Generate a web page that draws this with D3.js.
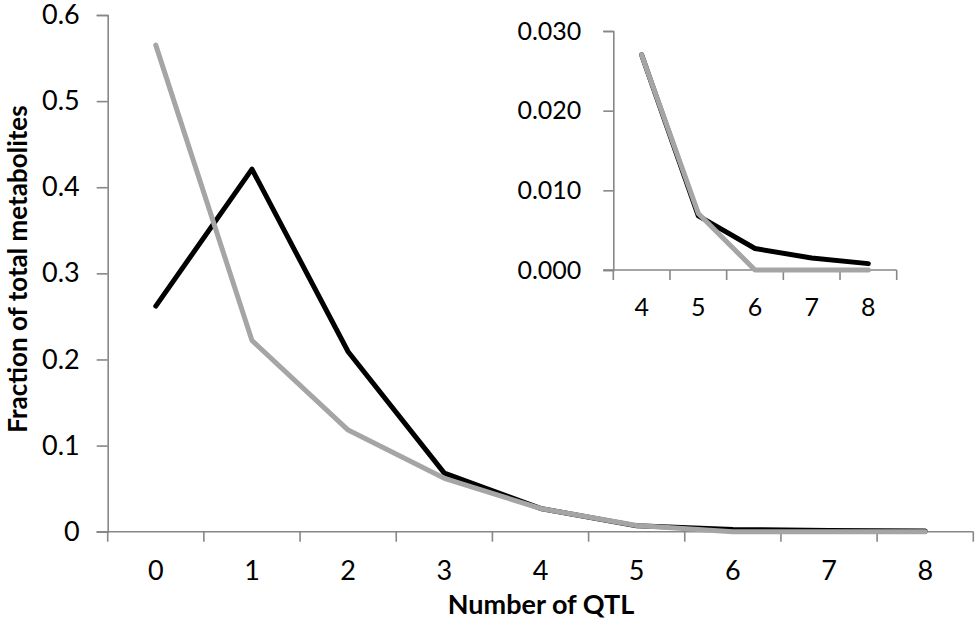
<!DOCTYPE html>
<html>
<head>
<meta charset="utf-8">
<script src="https://cdn.jsdelivr.net/npm/d3@7"></script>
<style>
  body { margin: 0; background: #fff; }
  svg text { font-family: Lato, "Open Sans", sans-serif; fill: #000; }
</style>
</head>
<body>
<div id="chart"></div>
<script>
const categories = [0, 1, 2, 3, 4, 5, 6, 7, 8];
const blackSeries = [0.262, 0.421, 0.209, 0.068, 0.027, 0.0068, 0.0027, 0.0015, 0.0008];
const graySeries = [0.565, 0.222, 0.118, 0.062, 0.027, 0.0071, 0, 0, 0];
const yTicks = [0, 0.1, 0.2, 0.3, 0.4, 0.5, 0.6];
const insetCategories = [4, 5, 6, 7, 8];
const insetTicks = [0, 0.01, 0.02, 0.03];

const width = 980, height = 633;
const axisColor = "#878787";

const svg = d3.select("#chart").append("svg")
  .attr("width", width)
  .attr("height", height);

// main panel
const x = d3.scaleBand().domain(categories).range([107.7, 973.3]).padding(0);
const y = d3.scaleLinear().domain([0, 0.6]).range([531.7, 15]);

// y axis
const yAxis = svg.append("g")
  .attr("transform", `translate(${x.range()[0]},0)`)
  .call(d3.axisLeft(y).tickValues(yTicks).tickSizeOuter(0).tickSize(11).tickPadding(17)
    .tickFormat(d => d === 0 ? "0" : d3.format(".1f")(d)));
yAxis.select(".domain").attr("stroke", axisColor).attr("stroke-width", 1.6);
yAxis.selectAll(".tick line").attr("stroke", axisColor).attr("stroke-width", 1.6);
yAxis.selectAll(".tick text").attr("font-size", 27);

// x axis: labels centred in bands, tick marks on band edges
const xAxis = svg.append("g")
  .attr("transform", `translate(0,${y(0)})`)
  .call(d3.axisBottom(x).tickSize(0).tickSizeOuter(0).tickPadding(29));
xAxis.select(".domain").remove();
xAxis.selectAll(".tick text").attr("font-size", 27);
xAxis.append("line")
  .attr("x1", x.range()[0] - 11).attr("x2", x.range()[1])
  .attr("stroke", axisColor).attr("stroke-width", 1.6);
xAxis.selectAll(".edge")
  .data(categories.map(c => x(c)).concat([x.range()[1]]))
  .join("line")
  .attr("x1", d => d).attr("x2", d => d)
  .attr("y1", 0).attr("y2", 10)
  .attr("stroke", axisColor).attr("stroke-width", 1.6);

const line = d3.line()
  .x(d => x(d[0]) + x.bandwidth() / 2)
  .y(d => y(d[1]));

svg.append("path")
  .datum(categories.map((c, i) => [c, blackSeries[i]]))
  .attr("d", line)
  .attr("fill", "none").attr("stroke", "#000").attr("stroke-width", 5)
  .attr("stroke-linejoin", "round").attr("stroke-linecap", "round");

svg.append("path")
  .datum(categories.map((c, i) => [c, graySeries[i]]))
  .attr("d", line)
  .attr("fill", "none").attr("stroke", "#a5a5a5").attr("stroke-width", 5)
  .attr("stroke-linejoin", "round").attr("stroke-linecap", "round");

// axis titles
svg.append("text")
  .attr("transform", `translate(27,269) rotate(-90)`)
  .attr("text-anchor", "middle")
  .attr("font-size", 26).attr("font-weight", "bold")
  .text("Fraction of total metabolites");

svg.append("text")
  .attr("x", 541).attr("y", 614)
  .attr("text-anchor", "middle")
  .attr("font-size", 27).attr("font-weight", "bold")
  .text("Number of QTL");

// inset
const xi = d3.scaleBand().domain(insetCategories).range([613.3, 896.7]).padding(0);
const yi = d3.scaleLinear().domain([0, 0.03]).range([270, 31]);

const yiAxis = svg.append("g")
  .attr("transform", `translate(${xi.range()[0]},0)`)
  .call(d3.axisLeft(yi).tickValues(insetTicks).tickSizeOuter(0).tickSize(10).tickPadding(22)
    .tickFormat(d3.format(".3f")));
yiAxis.select(".domain").attr("stroke", axisColor).attr("stroke-width", 1.6);
yiAxis.selectAll(".tick line").attr("stroke", axisColor).attr("stroke-width", 1.6);
yiAxis.selectAll(".tick text").attr("font-size", 25);

const xiAxis = svg.append("g")
  .attr("transform", `translate(0,${yi(0)})`)
  .call(d3.axisBottom(xi).tickSize(0).tickSizeOuter(0).tickPadding(28));
xiAxis.select(".domain").remove();
xiAxis.selectAll(".tick text").attr("font-size", 25);
xiAxis.append("line")
  .attr("x1", xi.range()[0] - 10).attr("x2", xi.range()[1])
  .attr("stroke", axisColor).attr("stroke-width", 1.6);
xiAxis.selectAll(".edge")
  .data(insetCategories.map(c => xi(c)).concat([xi.range()[1]]))
  .join("line")
  .attr("x1", d => d).attr("x2", d => d)
  .attr("y1", 0).attr("y2", 10)
  .attr("stroke", axisColor).attr("stroke-width", 1.6);

const lineI = d3.line()
  .x(d => xi(d[0]) + xi.bandwidth() / 2)
  .y(d => yi(d[1]));

const insetIdx = insetCategories.map(c => categories.indexOf(c));

svg.append("path")
  .datum(insetCategories.map((c, j) => [c, blackSeries[insetIdx[j]]]))
  .attr("d", lineI)
  .attr("fill", "none").attr("stroke", "#000").attr("stroke-width", 5)
  .attr("stroke-linejoin", "round").attr("stroke-linecap", "round");

svg.append("path")
  .datum(insetCategories.map((c, j) => [c, graySeries[insetIdx[j]]]))
  .attr("d", lineI)
  .attr("fill", "none").attr("stroke", "#a5a5a5").attr("stroke-width", 5)
  .attr("stroke-linejoin", "round").attr("stroke-linecap", "round");
</script>
</body>
</html>
